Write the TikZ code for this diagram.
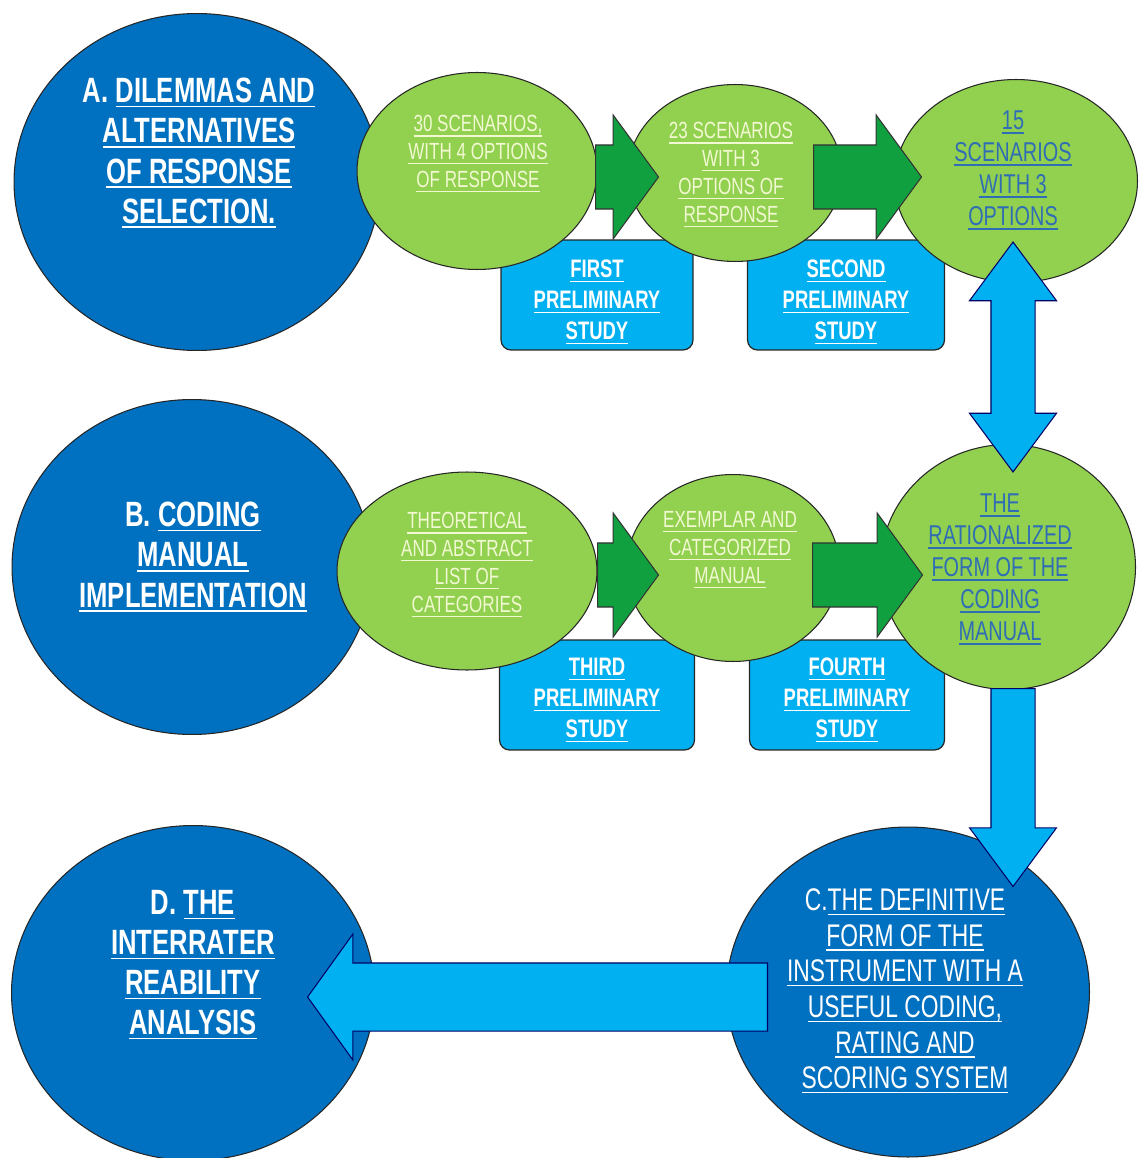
\documentclass[tikz,border=0pt]{standalone}
\usepackage{fontspec}
\usepackage{tikz}
\usetikzlibrary{shapes,shapes.arrows}
\newfontfamily\narrowfont{Liberation Sans}[FakeStretch=0.73]
\definecolor{stageblue}{HTML}{0070C0}
\definecolor{stepgreen}{HTML}{92D050}
\definecolor{flowgreen}{HTML}{10A040}
\definecolor{studyblue}{HTML}{00B0F0}
\definecolor{lighttext}{HTML}{F2F9D2}
\definecolor{bluetext}{HTML}{2F6DB5}
\newsavebox\ulbox
\newcommand{\un}[1]{\leavevmode\sbox\ulbox{#1}\rlap{\rule[-2.6pt]{\wd\ulbox}{0.8pt}}\usebox\ulbox}
\tikzstyle{stage}=[ellipse,draw=black!85,line width=0.6pt,fill=stageblue,inner sep=0pt]
\tikzstyle{stepnode}=[ellipse,draw=black!85,line width=0.6pt,fill=stepgreen,inner sep=0pt]
\tikzstyle{studybox}=[rectangle,rounded corners=0.2cm,draw=black!85,line width=0.7pt,fill=studyblue,inner sep=0pt,minimum height=2.2cm]

\begin{document}
\begin{tikzpicture}[x=0.02cm,y=-0.02cm]
    \tikzstyle{stagetext}=[text=white,align=center,font=\narrowfont\bfseries\fontsize{20}{22.8}\selectfont]
    \tikzstyle{ctext}=[text=white,align=center,font=\narrowfont\fontsize{17.8}{20.3}\selectfont]
    \tikzstyle{steptext}=[text=lighttext,align=center,font=\narrowfont\fontsize{13.3}{15.9}\selectfont]
    \tikzstyle{resulttext}=[text=bluetext,align=center,font=\narrowfont\fontsize{15.5}{18.2}\selectfont]
    \tikzstyle{studytext}=[text=white,align=center,font=\narrowfont\bfseries\fontsize{14.4}{17.6}\selectfont]
    \tikzstyle{flow}=[single arrow,draw=black!80,line width=0.6pt,fill=flowgreen,inner xsep=0pt,inner ysep=0.63cm,minimum width=2.46cm,single arrow head extend=0.6cm,single arrow tip angle=107.6,anchor=tail]
    \tikzstyle{bluearrow}=[single arrow,draw=blue!40!black,line width=0.6pt,fill=studyblue,inner xsep=0pt,anchor=tail]
    \useasboundingbox (0,0) rectangle (1141,1158);
    % study boxes
    \node[studybox,minimum width=3.84cm] (P1) at (597,295) {};
    \node[studybox,minimum width=3.94cm] (P2) at (846,295) {};
    \node[studybox,minimum width=3.9cm] (P3) at (597,695) {};
    \node[studybox,minimum width=3.9cm] (P4) at (847,695) {};
    % stages
    \node[stage,minimum width=7.32cm,minimum height=6.74cm] (A) at (197,182) {};
    \node[stage,minimum width=7.2cm,minimum height=6.7cm] (B) at (192,567) {};
    \node[stage,minimum width=7.26cm,minimum height=6.6cm] (C) at (908,992) {};
    \node[stage,minimum width=7.26cm,minimum height=6.7cm] (D) at (193,993) {};
    % steps
    \node[stepnode,minimum width=4.8cm,minimum height=3.94cm] (S1) at (477,171) {};
    \node[stepnode,minimum width=4.28cm,minimum height=3.54cm] (S2) at (735,173) {};
    \node[stepnode,minimum width=4.86cm,minimum height=4.06cm] (S3) at (1016,181) {};
    \node[stepnode,minimum width=5.2cm,minimum height=3.96cm] (S4) at (467,571) {};
    \node[stepnode,minimum width=4.26cm,minimum height=3.74cm] (S5) at (733,568) {};
    \node[stepnode,minimum width=5.1cm,minimum height=4.9cm] (S6) at (1008,567) {};
    % arrows
    \node[flow,minimum height=1.26cm] (F1) at (595,177) {};
    \node[flow,minimum height=2.16cm] (F2) at (813,177) {};
    \node[flow,minimum height=1.22cm] (F3) at (597,575) {};
    \node[flow,minimum height=2.2cm] (F4) at (812,575) {};
    \node[double arrow,draw=blue!40!black,line width=0.6pt,fill=studyblue,inner xsep=0pt,inner ysep=0.43cm,
        minimum width=1.72cm,minimum height=4.6cm,double arrow head extend=0.43cm,double arrow tip angle=73.1,rotate=90] (L) at (1013,357) {};
    \node[bluearrow,inner ysep=0.43cm,minimum width=1.72cm,minimum height=3.96cm,single arrow head extend=0.43cm,
        single arrow tip angle=73.1,rotate=-90] (FC) at (1013,688) {};
    \node[bluearrow,inner ysep=0.67cm,minimum width=2.5cm,minimum height=9.2cm,single arrow head extend=0.58cm,
        single arrow tip angle=108.5,rotate=180] (FD) at (768,997) {};
    % texts
    \node[stagetext] (At) at (199,153) {A. \un{DILEMMAS AND}\\\un{ALTERNATIVES}\\\un{OF RESPONSE}\\\un{SELECTION.}};
    \node[stagetext] (Bt) at (193,557) {B. \un{CODING}\\\un{MANUAL}\\\un{IMPLEMENTATION}};
    \node[ctext] (Ct) at (905,991) {C.\un{THE DEFINITIVE}\\\un{FORM OF THE}\\\un{INSTRUMENT WITH A}\\\un{USEFUL CODING,}\\\un{RATING AND}\\\un{SCORING SYSTEM}};
    \node[stagetext] (Dt) at (193,965) {D. \un{THE}\\\un{INTERRATER}\\\un{REABILITY}\\\un{ANALYSIS}};
    \node[steptext] (S1t) at (478,154) {\un{30 SCENARIOS,}\\\un{WITH 4 OPTIONS}\\\un{OF RESPONSE}};
    \node[steptext] (S2t) at (731,175) {\un{23 SCENARIOS}\\\un{WITH 3}\\\un{OPTIONS OF}\\\un{RESPONSE}};
    \node[resulttext] (S3t) at (1013,170) {\un{15}\\\un{SCENARIOS}\\\un{WITH 3}\\\un{OPTIONS}};
    \node[steptext] (S4t) at (467,565) {\un{THEORETICAL}\\\un{AND ABSTRACT}\\\un{LIST OF}\\\un{CATEGORIES}};
    \node[steptext] (S5t) at (730,550) {\un{EXEMPLAR AND}\\\un{CATEGORIZED}\\\un{MANUAL}};
    \node[resulttext] (S6t) at (1000,569) {\un{THE}\\\un{RATIONALIZED}\\\un{FORM OF THE}\\\un{CODING}\\\un{MANUAL}};
    \node[studytext] (P1t) at (597,302) {\un{FIRST}\\\un{PRELIMINARY}\\\un{STUDY}};
    \node[studytext] (P2t) at (846,302) {\un{SECOND}\\\un{PRELIMINARY}\\\un{STUDY}};
    \node[studytext] (P3t) at (597,700) {\un{THIRD}\\\un{PRELIMINARY}\\\un{STUDY}};
    \node[studytext] (P4t) at (847,700) {\un{FOURTH}\\\un{PRELIMINARY}\\\un{STUDY}};
\end{tikzpicture}
\end{document}
